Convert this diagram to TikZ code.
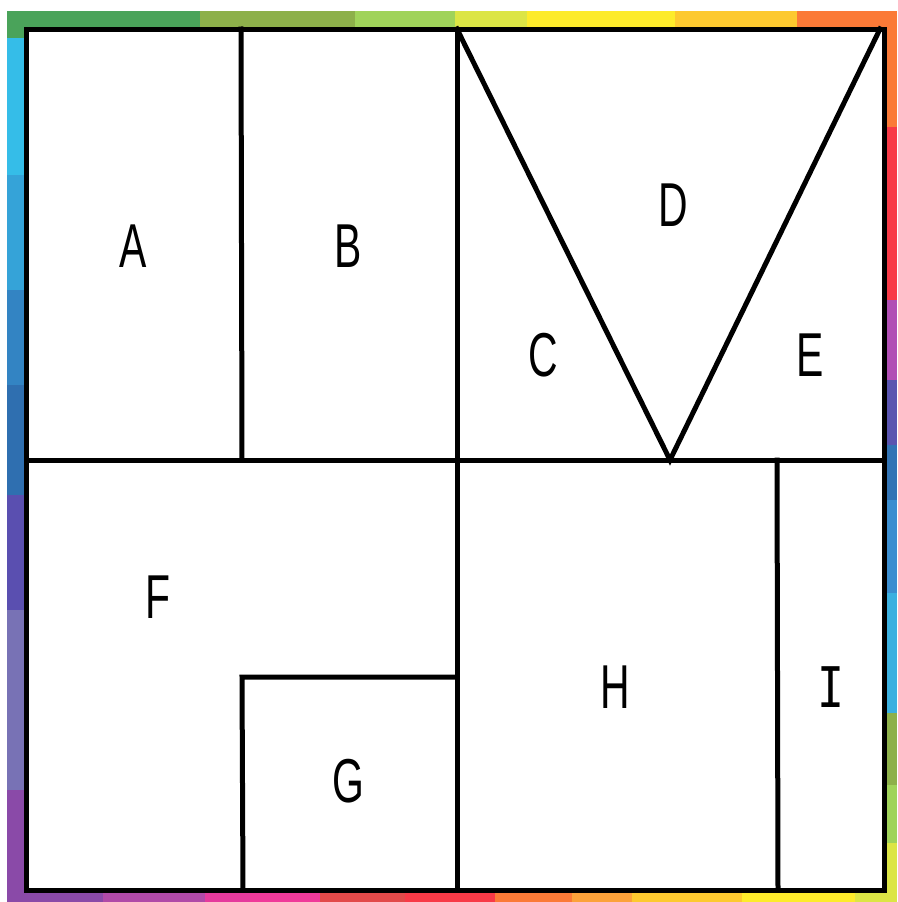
\documentclass[tikz,border=0pt]{standalone}
\usepackage{fontspec}
\setmainfont{Liberation Sans}[FakeStretch=0.66]
\newfontfamily\barfont{DejaVu Sans Mono}[FakeStretch=0.8]
\begin{document}
\begin{tikzpicture}[x=1pt,y=-1pt,
  edge/.style={line width=5pt,line cap=rect,line join=miter},
  lbl/.style={font=\fontsize{62}{62}\selectfont,inner sep=0pt}]
\useasboundingbox (0,0) rectangle (897,902);
\fill[white] (0,0) rectangle (897,902);
% top strip
\fill[fill={rgb,255:red,74;green,163;blue,90}] (7,11) rectangle (200,29);
\fill[fill={rgb,255:red,141;green,176;blue,74}] (200,11) rectangle (355,29);
\fill[fill={rgb,255:red,160;green,211;blue,90}] (355,11) rectangle (455,29);
\fill[fill={rgb,255:red,220;green,229;blue,69}] (455,11) rectangle (527,29);
\fill[fill={rgb,255:red,253;green,235;blue,43}] (527,11) rectangle (675,29);
\fill[fill={rgb,255:red,253;green,201;blue,47}] (675,11) rectangle (797,29);
\fill[fill={rgb,255:red,251;green,122;blue,55}] (797,11) rectangle (897,29);
% left strip
\fill[fill={rgb,255:red,74;green,163;blue,90}] (7,29) rectangle (26,38);
\fill[fill={rgb,255:red,53;green,189;blue,232}] (7,38) rectangle (26,175);
\fill[fill={rgb,255:red,53;green,163;blue,216}] (7,175) rectangle (26,290);
\fill[fill={rgb,255:red,51;green,132;blue,195}] (7,290) rectangle (26,385);
\fill[fill={rgb,255:red,47;green,111;blue,176}] (7,385) rectangle (26,495);
\fill[fill={rgb,255:red,90;green,79;blue,176}] (7,495) rectangle (26,610);
\fill[fill={rgb,255:red,120;green,114;blue,181}] (7,610) rectangle (26,790);
\fill[fill={rgb,255:red,138;green,74;blue,168}] (7,790) rectangle (26,902);
% bottom strip
\fill[fill={rgb,255:red,138;green,74;blue,168}] (26,890) rectangle (103,902);
\fill[fill={rgb,255:red,176;green,74;blue,168}] (103,890) rectangle (205,902);
\fill[fill={rgb,255:red,229;green,58;blue,157}] (205,890) rectangle (250,902);
\fill[fill={rgb,255:red,240;green,58;blue,154}] (250,890) rectangle (320,902);
\fill[fill={rgb,255:red,226;green,74;blue,74}] (320,890) rectangle (405,902);
\fill[fill={rgb,255:red,248;green,58;blue,71}] (405,890) rectangle (495,902);
\fill[fill={rgb,255:red,251;green,122;blue,55}] (495,890) rectangle (572,902);
\fill[fill={rgb,255:red,252;green,162;blue,58}] (572,890) rectangle (632,902);
\fill[fill={rgb,255:red,253;green,201;blue,47}] (632,890) rectangle (742,902);
\fill[fill={rgb,255:red,253;green,235;blue,43}] (742,890) rectangle (855,902);
\fill[fill={rgb,255:red,220;green,229;blue,69}] (855,890) rectangle (897,902);
% right strip
\fill[fill={rgb,255:red,251;green,122;blue,55}] (885,29) rectangle (897,127);
\fill[fill={rgb,255:red,248;green,58;blue,71}] (885,127) rectangle (897,300);
\fill[fill={rgb,255:red,177;green,79;blue,181}] (885,300) rectangle (897,380);
\fill[fill={rgb,255:red,90;green,85;blue,176}] (885,380) rectangle (897,445);
\fill[fill={rgb,255:red,50;green,116;blue,181}] (885,445) rectangle (897,500);
\fill[fill={rgb,255:red,59;green,142;blue,208}] (885,500) rectangle (897,593);
\fill[fill={rgb,255:red,59;green,176;blue,224}] (885,593) rectangle (897,713);
\fill[fill={rgb,255:red,141;green,176;blue,74}] (885,713) rectangle (897,785);
\fill[fill={rgb,255:red,160;green,211;blue,90}] (885,785) rectangle (897,843);
\fill[fill={rgb,255:red,220;green,229;blue,69}] (885,843) rectangle (897,890);
% white inner
\fill[white] (26,29) rectangle (885,890);
% coordinates
\coordinate (tl) at (26,29);
\coordinate (tr) at (884,29);
\coordinate (br) at (884,890);
\coordinate (bl) at (26,890);
\coordinate (ml) at (26,460);
\coordinate (mr) at (884,460);
\coordinate (abt) at (241,29);
\coordinate (abb) at (242,460);
\coordinate (ct) at (457,29);
\coordinate (cb) at (457,890);
\coordinate (apex) at (670,460);
\coordinate (tri) at (880,29);
\coordinate (hit) at (777,460);
\coordinate (hib) at (778,890);
\coordinate (gtl) at (242,677);
\coordinate (gtr) at (457,677);
\coordinate (gbl) at (243,890);
% lines
\draw[edge] (tl) rectangle (br);
\draw[edge] (ml) -- (mr);
\draw[edge] (abt) -- (abb);
\draw[edge] (ct) -- (cb);
\draw[edge] (ct) -- (apex) -- (tri);
\draw[edge] (hit) -- (hib);
\draw[edge] (gbl) -- (gtl) -- (gtr);
% labels
\node[lbl] (A) at (133,246) {A};
\node[lbl] (B) at (348,246) {B};
\node[lbl] (C) at (543,355) {C};
\node[lbl] (D) at (673,205) {D};
\node[lbl] (E) at (810,355) {E};
\node[lbl] (F) at (158,597) {F};
\node[lbl] (G) at (348,781) {G};
\node[lbl] (H) at (615,687) {H};
\node[lbl,font=\barfont\fontsize{56}{56}\selectfont] (I) at (831,687) {I};
\end{tikzpicture}
\end{document}
